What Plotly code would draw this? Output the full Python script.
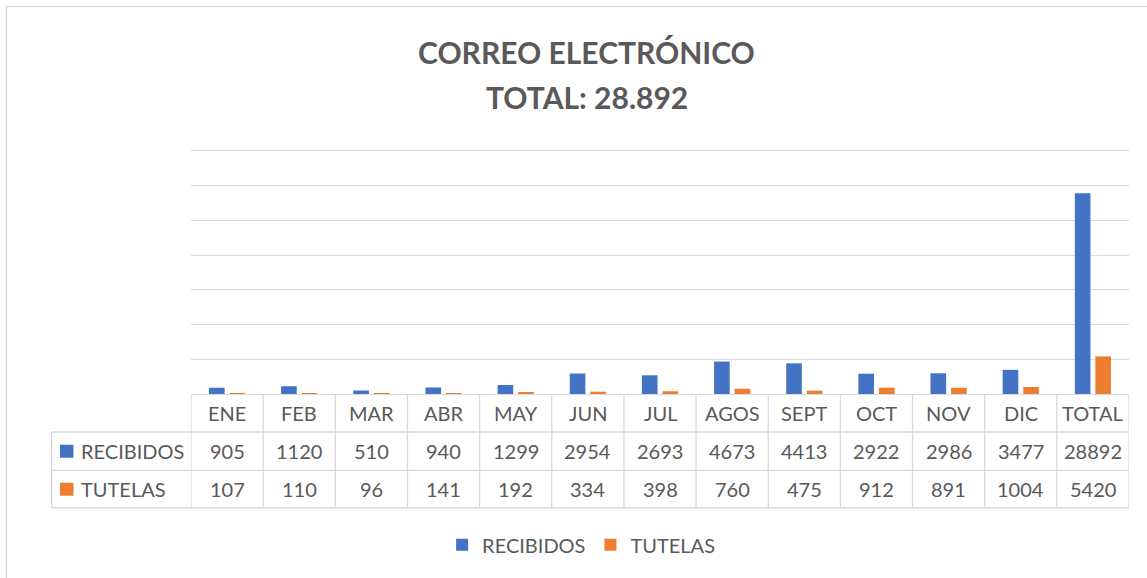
import plotly.graph_objects as go

# ---- data ----
categories = ["ENE", "FEB", "MAR", "ABR", "MAY", "JUN", "JUL", "AGOS", "SEPT", "OCT", "NOV", "DIC", "TOTAL"]
recibidos = [905, 1120, 510, 940, 1299, 2954, 2693, 4673, 4413, 2922, 2986, 3477, 28892]
tutelas = [107, 110, 96, 141, 192, 334, 398, 760, 475, 912, 891, 1004, 5420]
series_names = ["RECIBIDOS", "TUTELAS"]
series_values = [recibidos, tutelas]
series_colors = ["#4472C4", "#ED7D31"]
y_ticks = [0, 5000, 10000, 15000, 20000, 25000, 30000, 35000]
title_line1 = "CORREO ELECTRÓNICO"
title_line2 = "TOTAL: " + f"{recibidos[-1]:,}".replace(",", ".")

# ---- geometry (pixels) ----
W, H = 1147, 578
EXT = 1.008  # small headroom so the top gridline is drawn
L, R, B = 191, 1128.7, 394.3
T0 = 151.3                      # pixel of the top gridline
T = B - (B - T0) * EXT          # actual plot top
FONT = "Lato"
TXT = "#595959"
GRID = "#d9d9d9"


def px2x(px):
    return (px - L) / (R - L)


def py2y(py):
    return (B - py) / (B - T)


fig = go.Figure()
for name, vals, col in zip(series_names, series_values, series_colors):
    fig.add_trace(go.Bar(x=categories, y=vals, name=name, marker=dict(color=col, line=dict(width=0))))

shapes = []
annotations = []

# outer chart border
shapes.append(dict(type="rect", xref="paper", yref="paper",
                   x0=px2x(6.5), x1=px2x(1170), y0=py2y(600), y1=py2y(7),
                   line=dict(color=GRID, width=1.3), fillcolor="rgba(0,0,0,0)", layer="below"))

# table geometry
row_lines = [432.3, 470.7, 508]
row_centers = [413.3, 451.5, 489.5]
lab_left = 51.7

# vertical lines between category columns
for i in range(len(categories) + 1):
    shapes.append(dict(type="line", xref="x", yref="paper", x0=i - 0.5, x1=i - 0.5,
                       y0=0, y1=py2y(row_lines[-1]), line=dict(color=GRID, width=1.3)))
# horizontal table lines
for yl in row_lines:
    shapes.append(dict(type="line", xref="paper", yref="paper", x0=px2x(lab_left), x1=1,
                       y0=py2y(yl), y1=py2y(yl), line=dict(color=GRID, width=1.3)))
# left border of label column
shapes.append(dict(type="line", xref="paper", yref="paper", x0=px2x(lab_left), x1=px2x(lab_left),
                   y0=py2y(row_lines[0]), y1=py2y(row_lines[-1]), line=dict(color=GRID, width=1.3)))

# header row: category names
for c in categories:
    annotations.append(dict(x=c, xref="x", y=py2y(row_centers[0]), yref="paper", text=c,
                            showarrow=False, xanchor="center", yanchor="middle",
                            font=dict(family=FONT, size=20, color=TXT)))
# data rows
for r, (name, vals, col) in enumerate(zip(series_names, series_values, series_colors)):
    yc = row_centers[r + 1]
    shapes.append(dict(type="rect", xref="paper", yref="paper",
                       x0=px2x(60), x1=px2x(73.5), y0=py2y(yc + 6.5), y1=py2y(yc - 6.5),
                       fillcolor=col, line=dict(width=0)))
    annotations.append(dict(x=px2x(79), xref="paper", y=py2y(yc), yref="paper", text=name,
                            showarrow=False, xanchor="left", yanchor="middle",
                            font=dict(family=FONT, size=20, color=TXT)))
    for c, v in zip(categories, vals):
        annotations.append(dict(x=c, xref="x", y=py2y(yc), yref="paper", text=str(v),
                                showarrow=False, xanchor="center", yanchor="middle",
                                font=dict(family=FONT, size=20, color=TXT)))

# title
annotations.append(dict(x=px2x(586.5), xref="paper", y=py2y(52), yref="paper", text="<b>" + title_line1 + "</b>",
                        showarrow=False, xanchor="center", yanchor="middle",
                        font=dict(family=FONT, size=30, color=TXT)))
annotations.append(dict(x=px2x(586.5), xref="paper", y=py2y(97), yref="paper", text="<b>" + title_line2 + "</b>",
                        showarrow=False, xanchor="center", yanchor="middle",
                        font=dict(family=FONT, size=30, color=TXT)))

fig.update_layout(
    width=W, height=H,
    margin=dict(l=L, r=W - R, t=T, b=H - B, autoexpand=False),
    paper_bgcolor="white", plot_bgcolor="white",
    barmode="group", bargap=0.43, bargroupgap=0.24,
    showlegend=True,
    legend=dict(orientation="h", x=px2x(581), xanchor="center", y=py2y(545), yanchor="middle",
                font=dict(family=FONT, size=20, color=TXT), bgcolor="rgba(0,0,0,0)",
                itemclick=False),
    xaxis=dict(type="category", showgrid=False, showline=False, showticklabels=False, ticks="",
               range=[-0.5, len(categories) - 0.5], fixedrange=True),
    yaxis=dict(range=[0, y_ticks[-1] * EXT], tickmode="array", tickvals=y_ticks,
               showgrid=True, gridcolor=GRID, gridwidth=1,
               zeroline=True, zerolinecolor=GRID, zerolinewidth=1.3,
               showticklabels=False, ticks="", showline=False, fixedrange=True),
    shapes=shapes, annotations=annotations,
    font=dict(family=FONT, color=TXT),
)

fig.write_html("out.html", config={"displayModeBar": False},
               post_script="document.body.style.margin='0';document.body.style.overflow='hidden';")
